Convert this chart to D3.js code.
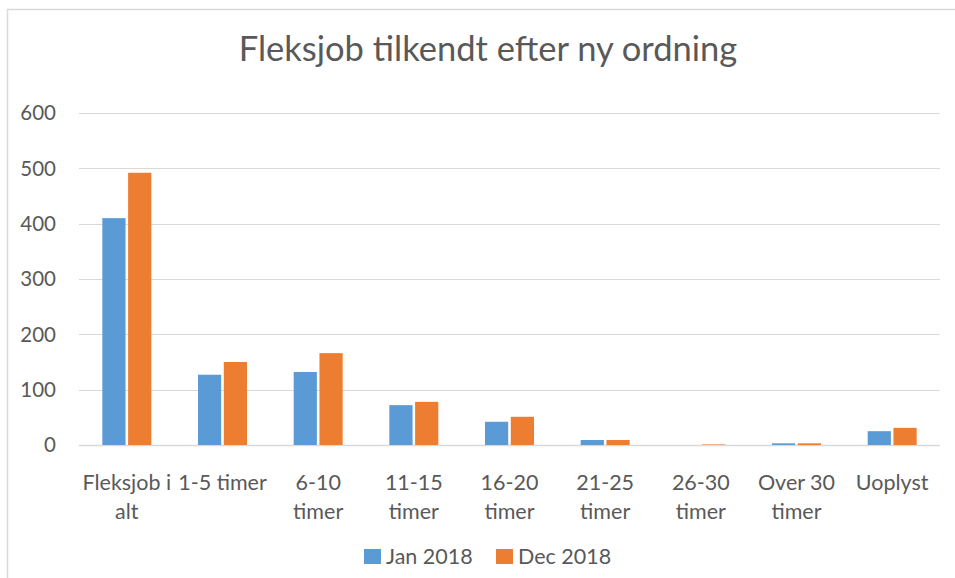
<!DOCTYPE html>
<html>
<head>
<meta charset="utf-8">
<script src="https://cdn.jsdelivr.net/npm/d3@7"></script>
<style>
  body { margin: 0; background: #fff; }
  text { font-family: Lato, "Open Sans", sans-serif; fill: #595959; }
</style>
</head>
<body>
<svg id="chart" width="955" height="578"></svg>
<script>
const categories = [
	["Fleksjob i", "alt"],
	["1-5 timer"],
	["6-10", "timer"],
	["11-15", "timer"],
	["16-20", "timer"],
	["21-25", "timer"],
	["26-30", "timer"],
	["Over 30", "timer"],
	["Uoplyst"],
];
const seriesNames = ["Jan 2018", "Dec 2018"];
const jan2018 = [410, 127, 132, 72, 42, 9, 0, 3, 25];
const dec2018 = [492, 150, 166, 78, 51, 9, 1, 3, 31];
const yTicks = [0, 100, 200, 300, 400, 500, 600];
const colors = ["#5B9BD5", "#ED7D31"];

const svg = d3.select("#chart");
const margin = { top: 113, right: 15, bottom: 133, left: 79 };
const width = +svg.attr("width"),
	height = +svg.attr("height");

// outer frame (clipped on right/bottom like the screenshot)
svg.append("path")
	.attr("d", `M7.5,${height} V9.5 H${width}`)
	.attr("fill", "none")
	.attr("stroke", "#D9D9D9")
	.attr("stroke-width", 1.5);

svg.append("text")
	.attr("x", 488)
	.attr("y", 61)
	.attr("text-anchor", "middle")
	.style("font-size", "34.5px")
	.text("Fleksjob tilkendt efter ny ordning");

const x0 = d3
	.scaleBand()
	.domain(d3.range(categories.length))
	.range([margin.left, width - margin.right]);
const x1 = d3
	.scaleBand()
	.domain(seriesNames)
	.range([x0.bandwidth() / 2 - 24.5, x0.bandwidth() / 2 + 24.5])
	.paddingInner(0.1);
const y = d3
	.scaleLinear()
	.domain([0, 600])
	.range([height - margin.bottom, margin.top]);

svg.append("g")
	.selectAll("line")
	.data(yTicks)
	.join("line")
	.attr("x1", margin.left)
	.attr("x2", width - margin.right)
	.attr("y1", (d) => Math.round(y(d)) + 0.5)
	.attr("y2", (d) => Math.round(y(d)) + 0.5)
	.attr("stroke", "#D9D9D9")
	.attr("stroke-width", (d) => (d === 0 ? 1.5 : 1.2));

svg.append("g")
	.selectAll("text")
	.data(yTicks)
	.join("text")
	.attr("x", 56)
	.attr("y", (d) => y(d))
	.attr("dy", "0.36em")
	.attr("text-anchor", "end")
	.style("font-size", "20.5px")
	.text((d) => d);

const series = [jan2018, dec2018];
const groups = svg
	.append("g")
	.selectAll("g")
	.data(series)
	.join("g")
	.attr("fill", (d, i) => colors[i]);

groups
	.selectAll("rect")
	.data((d, i) => d.map((v, j) => ({ v, j, s: seriesNames[i] })))
	.join("rect")
	.attr("x", (d) => x0(d.j) + x1(d.s))
	.attr("width", x1.bandwidth())
	.attr("y", (d) => y(d.v))
	.attr("height", (d) => y(0) - y(d.v));

const labels = svg
	.append("g")
	.selectAll("text")
	.data(categories)
	.join("text")
	.attr("x", (d, i) => x0(i) + x0.bandwidth() / 2)
	.attr("y", 490)
	.attr("text-anchor", "middle")
	.style("font-size", "21.5px");
labels
	.selectAll("tspan")
	.data((d) => d)
	.join("tspan")
	.attr("x", function () {
		return this.parentNode.getAttribute("x");
	})
	.attr("dy", (d, i) => (i === 0 ? 0 : 29))
	.text((d) => d);

const legend = svg
	.append("g")
	.selectAll("g")
	.data(seriesNames)
	.join("g")
	.attr("transform", (d, i) => `translate(${[364, 496][i]},549)`);
legend
	.append("rect")
	.attr("width", 17)
	.attr("height", 15)
	.attr("fill", (d, i) => colors[i]);
legend
	.append("text")
	.attr("x", 22)
	.attr("y", 15)
	.style("font-size", "21.5px")
	.text((d) => d);
</script>
</body>
</html>
